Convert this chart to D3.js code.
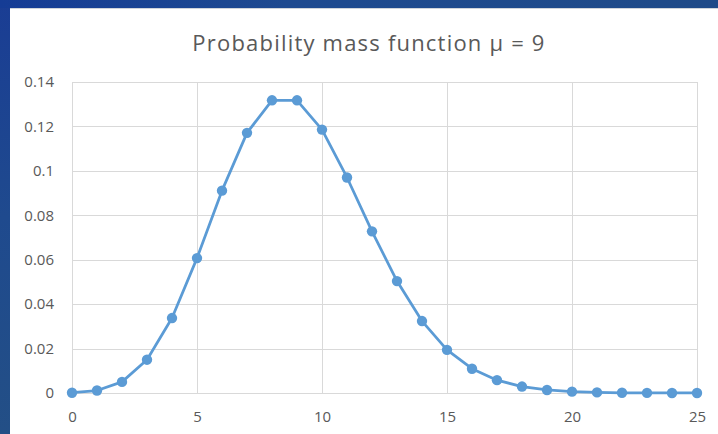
<!DOCTYPE html>
<html><head><meta charset="utf-8">
<script src="https://cdn.jsdelivr.net/npm/d3@7"></script>
<style>body{margin:0;background:#fff;}svg{display:block;}</style>
</head><body>
<script>
const kValues = [0,1,2,3,4,5,6,7,8,9,10,11,12,13,14,15,16,17,18,19,20,21,22,23,24,25];
const pmfValues = [0.000123,0.00111,0.004998,0.014994,0.033737,0.060727,0.09109,0.117116,0.131756,0.131756,0.11858,0.09702,0.072765,0.050376,0.032384,0.019431,0.01093,0.005786,0.002893,0.00137,0.000617,0.000264,0.000108,0.0000423,0.0000159,0.0000057];
const xTicks = [0,5,10,15,20,25];
const yTicks = [0,0.02,0.04,0.06,0.08,0.1,0.12,0.14];
const yTickLabels = ["0","0.02","0.04","0.06","0.08","0.1","0.12","0.14"];
const title = "Probability mass function \u03bc = 9";

const W=718,H=434;
const svg=d3.select("body").append("svg").attr("width",W).attr("height",H);
const defs=svg.append("defs");
const g1=defs.append("linearGradient").attr("id","lg").attr("x1","0").attr("y1","0").attr("x2","0").attr("y2","1");
g1.append("stop").attr("offset","0").attr("stop-color","#1a3d94");
g1.append("stop").attr("offset","0.5").attr("stop-color","#1f4a8e");
g1.append("stop").attr("offset","1").attr("stop-color","#234f86");
const g2=defs.append("linearGradient").attr("id","tg").attr("x1","0").attr("y1","0").attr("x2","1").attr("y2","0");
g2.append("stop").attr("offset","0").attr("stop-color","#153c95");
g2.append("stop").attr("offset","0.4").attr("stop-color","#1e4a90");
g2.append("stop").attr("offset","1").attr("stop-color","#1f4a88");
svg.append("rect").attr("x",0).attr("y",0).attr("width",W).attr("height",H).attr("fill","url(#lg)");
svg.append("rect").attr("x",0).attr("y",0).attr("width",W).attr("height",8).attr("fill","url(#tg)");
svg.append("rect").attr("x",10).attr("y",8).attr("width",W-10).attr("height",H-8).attr("fill","#ffffff");
svg.append("line").attr("x1",10).attr("x2",W).attr("y1",8.5).attr("y2",8.5).attr("stroke","#d0d4da");

const x=d3.scaleLinear().domain([0,25]).range([72,697]);
const y=d3.scaleLinear().domain([0,0.14]).range([393,82]);

const font="'Open Sans', 'Liberation Sans', sans-serif";
svg.append("text").attr("x",369).attr("y",51).attr("text-anchor","middle")
  .attr("font-family",font).attr("font-size",22).attr("letter-spacing","1.2px").attr("fill","#595959").text(title);

// gridlines
svg.append("g").selectAll("line").data(yTicks).join("line")
  .attr("x1",x(0)).attr("x2",x(25)).attr("y1",d=>Math.round(y(d))+0.5).attr("y2",d=>Math.round(y(d))+0.5)
  .attr("stroke","#d9d9d9").attr("stroke-width",1);
svg.append("g").selectAll("line").data(xTicks).join("line")
  .attr("y1",y(0)).attr("y2",y(0.14)).attr("x1",d=>Math.round(x(d))+0.5).attr("x2",d=>Math.round(x(d))+0.5)
  .attr("stroke","#d9d9d9").attr("stroke-width",1);

// axes labels via d3 axes
const yAxis=d3.axisLeft(y).tickValues(yTicks).tickFormat((d,i)=>yTickLabels[i]).tickSize(0).tickPadding(18);
const ya=svg.append("g").attr("transform",`translate(${x(0)},0)`).call(yAxis);
ya.select(".domain").remove();
ya.selectAll("text").attr("font-family",font).attr("font-size",15).attr("fill","#595959");
const xAxis=d3.axisBottom(x).tickValues(xTicks).tickFormat(d3.format("d")).tickSize(0).tickPadding(18);
const xa=svg.append("g").attr("transform",`translate(0,${y(0)})`).call(xAxis);
xa.select(".domain").remove();
xa.selectAll("text").attr("font-family",font).attr("font-size",15).attr("fill","#595959");

const data=kValues.map((k,i)=>({k,v:pmfValues[i]}));
svg.append("path").datum(data).attr("fill","none").attr("stroke","#5b9bd5").attr("stroke-width",2.75)
  .attr("stroke-linejoin","round")
  .attr("d",d3.line().x(d=>x(d.k)).y(d=>y(d.v)));
svg.append("g").selectAll("circle").data(data).join("circle")
  .attr("cx",d=>x(d.k)).attr("cy",d=>y(d.v)).attr("r",5.2).attr("fill","#5b9bd5");
</script>
</body></html>
